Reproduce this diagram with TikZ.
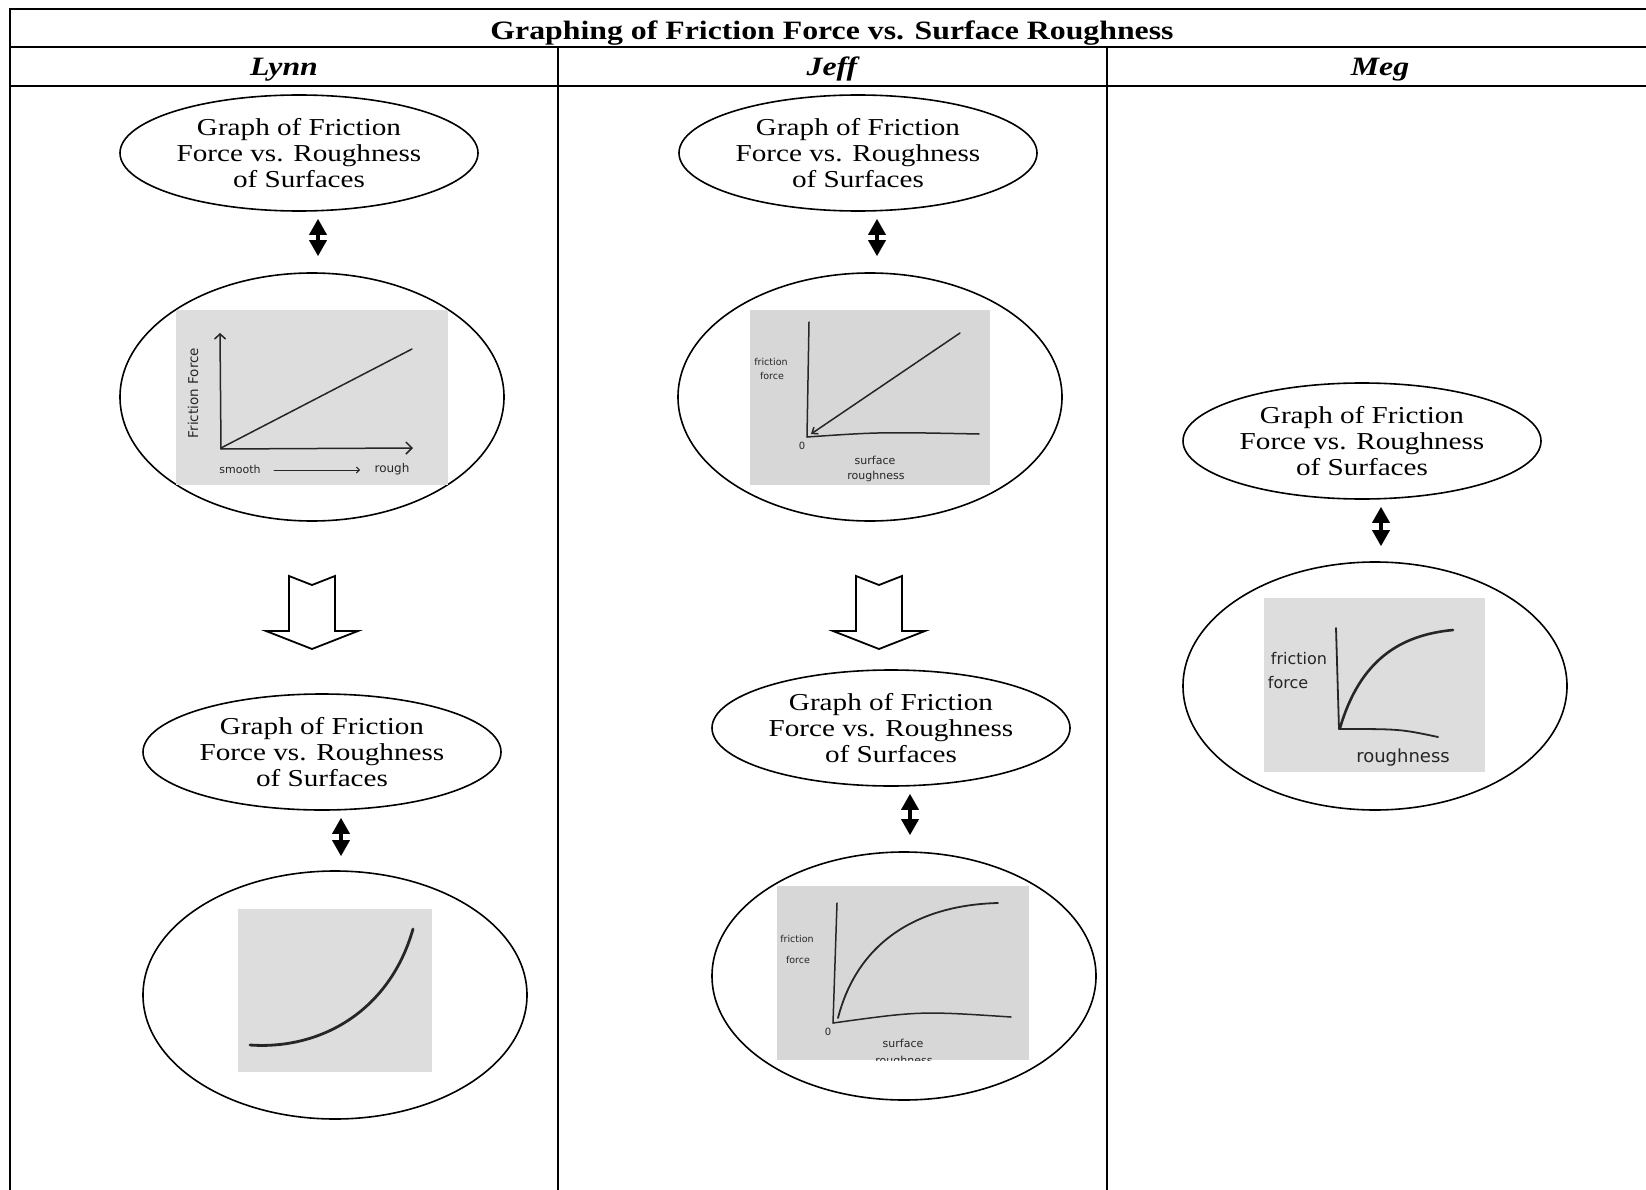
\documentclass[tikz,border=0pt]{standalone}
\usepackage{fontspec}
\setmainfont{Liberation Serif}[FakeStretch=1.2]
\newfontfamily\sketchfont{DejaVu Sans}
\usetikzlibrary{arrows.meta,shapes.geometric}
\definecolor{PaperGray}{HTML}{DDDDDD}
\definecolor{ScanGray}{HTML}{D7D7D7}
\definecolor{Pencil}{HTML}{262626}
\tikzset{bigdown/.pic={\draw[line width=1.8pt,fill=white,line join=miter] (-23,0) -- (0,9) -- (23,0) -- (23,55) -- (46,55) -- (0,73) -- (-46,55) -- (-23,55) -- cycle;}}

\begin{document}
\begin{tikzpicture}[x=1pt,y=-1pt,
  lbl/.style={draw,ellipse,line width=1.6pt,fill=white,inner sep=0pt,minimum width=358pt,minimum height=116pt,align=center,font=\fontsize{24.3}{26.3}\selectfont},
  gph/.style={draw,ellipse,line width=1.6pt,fill=white,inner sep=0pt,minimum width=384pt,minimum height=248pt},
  dbl/.style={{Triangle[width=17pt,length=16pt]}-{Triangle[width=17pt,length=16pt]},line width=3.5pt},
  pencil/.style={draw=Pencil,line width=1.5pt,line cap=round,line join=round},
  hand/.style={text=Pencil,inner sep=0pt,font=\sketchfont\fontsize{#1}{#1}\selectfont},
  thickrule/.style={line width=2.5pt},
  head/.style={inner sep=0pt,anchor=base,font=\fontsize{26.5}{26.5}\selectfont\bfseries}]
\useasboundingbox (0,0) rectangle (1646,1190);

% table
\draw[thickrule] (10,9) -- (1646,9);
\draw[thickrule] (10,47) -- (1646,47);
\draw[thickrule] (10,86) -- (1646,86);
\draw[thickrule] (10,8) -- (10,1190);
\draw[line width=1.2pt] (558,47) -- (558,1190);
\draw[line width=1.2pt] (1107,47) -- (1107,1190);
\node[head] (title) at (832,39.5) {Graphing of Friction Force vs. Surface Roughness};
\node[head] (lynn) at (284,76) {\itshape Lynn};
\node[head] (jeff) at (832,76) {\itshape Jeff};
\node[head] (meg) at (1380,76) {\itshape Meg};

% Lynn
\node[lbl] (lynnTop) at (299,153) {Graph of Friction\\Force vs. Roughness\\of Surfaces};
\node[gph] (lynnPlot) at (312,397) {};
\fill[PaperGray] (176,310) rectangle (448,485);
\draw[pencil,-{Straight Barb[length=5pt,width=11pt]}] (221,449) -- (220,333);
\draw[pencil,-{Straight Barb[length=6pt,width=12pt]}] (221,449) -- (413,448);
\draw[pencil] (221,448) -- (412,349);
\node[hand=13.5,rotate=90] (lynnY) at (193,393) {Friction Force};
\node[hand=11] (lynnSmooth) at (240,469) {smooth};
\node[hand=12] (lynnRough) at (392,469) {rough};
\draw[pencil,line width=1pt,-{Straight Barb[length=3pt,width=6pt]}] (lynnSmooth) ++(34,1) -- (360,470);
\draw[dbl,shorten <=7pt,shorten >=16pt] (318,0 |- lynnTop.south) -- (318,0 |- lynnPlot.north);
\pic at (312,576) {bigdown};
\node[lbl] (lynnLow) at (322,752) {Graph of Friction\\Force vs. Roughness\\of Surfaces};
\node[gph] (lynnCurve) at (335,995) {};
\fill[PaperGray] (238,909) rectangle (432,1072);
\draw[pencil,line width=2.8pt] (250,1045) .. controls (322,1050) and (390,1010) .. (413,929);
\draw[dbl,shorten <=7pt,shorten >=14pt] (341,0 |- lynnLow.south) -- (341,0 |- lynnCurve.north);

% Jeff
\node[lbl] (jeffTop) at (858,153) {Graph of Friction\\Force vs. Roughness\\of Surfaces};
\node[gph] (jeffPlot) at (870,397) {};
\fill[ScanGray] (750,310) rectangle (990,485);
\draw[pencil] (809,322) -- (807,437);
\draw[pencil] (807,437) .. controls (880,432) .. (979,434);
\draw[pencil,-{Straight Barb[length=5pt,width=8pt]}] (960,333) -- (811,434);
\node[hand=9.5] (jeffY) at (771,362) {friction};
\node[hand=9.5] (jeffY2) at (772,376) {force};
\node[hand=10] (jeffZero) at (802,446) {0};
\node[hand=11] (jeffX) at (875,460) {surface};
\node[hand=11] (jeffX2) at (876,476) {roughness};
\draw[dbl,shorten <=7pt,shorten >=16pt] (877,0 |- jeffTop.south) -- (877,0 |- jeffPlot.north);
\pic at (879,576) {bigdown};
\node[lbl] (jeffLow) at (891,728) {Graph of Friction\\Force vs. Roughness\\of Surfaces};
\node[gph] (jeffCurve) at (904,976) {};
\fill[ScanGray] (777,886) rectangle (1029,1060);
\draw[pencil] (837,903) -- (833,1023);
\draw[pencil] (833,1023) .. controls (920,1011) .. (1011,1017);
\draw[pencil,line width=1.8pt] (838,1018) .. controls (858,940) and (920,905) .. (998,903);
\node[hand=9.5] (jeffY3) at (797,939) {friction};
\node[hand=9.5] (jeffY4) at (798,960) {force};
\node[hand=10] (jeffZero2) at (828,1032) {0};
\node[hand=11] (jeffX3) at (903,1043) {surface};
\begin{scope}
\clip (777,886) rectangle (1029,1060);
\node[hand=11] (jeffX4) at (904,1061) {roughness};
\end{scope}
\draw[dbl,shorten <=7pt,shorten >=16pt] (910,0 |- jeffLow.south) -- (910,0 |- jeffCurve.north);

% Meg
\node[lbl] (megTop) at (1362,441) {Graph of Friction\\Force vs. Roughness\\of Surfaces};
\node[gph] (megPlot) at (1375,686) {};
\fill[PaperGray] (1264,598) rectangle (1485,772);
\draw[pencil,line width=1.8pt] (1336,628) -- (1339,729);
\draw[pencil,line width=1.8pt] (1339,729) .. controls (1400,729) .. (1438,737);
\draw[pencil,line width=2.6pt] (1340,728) .. controls (1360,660) and (1400,635) .. (1453,630);
\node[hand=16] (megY) at (1299,659) {friction};
\node[hand=16] (megY2) at (1288,683) {force};
\node[hand=18] (megX) at (1403,758) {roughness};
\draw[dbl,shorten <=7pt,shorten >=15pt] (1381,0 |- megTop.south) -- (1381,0 |- megPlot.north);
\end{tikzpicture}
\end{document}
